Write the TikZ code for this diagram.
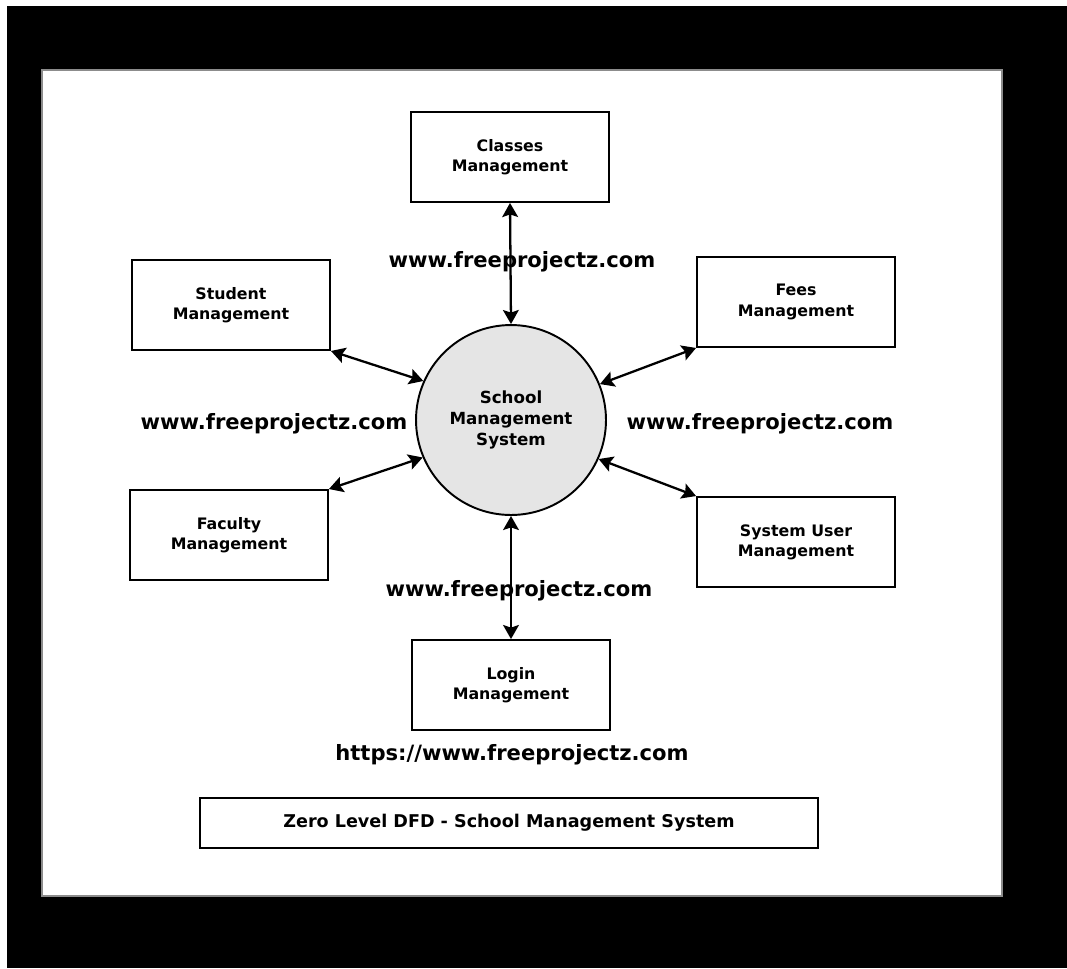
\documentclass[tikz,border=0pt]{standalone}
\usepackage{fontspec}
\setmainfont{DejaVu Sans}
\definecolor{dfdfill}{RGB}{229,229,229}
\definecolor{dfdframe}{RGB}{140,140,140}
\usetikzlibrary{arrows.meta}

\begin{document}
\begin{tikzpicture}[x=0.02cm,y=-0.02cm,
  entity/.style={draw,line width=1.1pt,minimum width=3.96cm,minimum height=1.8cm,
    align=center,font=\fontsize{9}{11.5}\selectfont\bfseries},
  process/.style={circle,draw,fill=dfdfill,line width=1.1pt,minimum size=3.8cm,
    align=center,font=\fontsize{9.5}{12}\selectfont\bfseries},
  flow/.style={{Stealth[length=8pt,width=9pt,inset=1.5pt]}-{Stealth[length=8pt,width=9pt,inset=1.5pt]},line width=1.3pt},
  site/.style={font=\fontsize{12}{14}\selectfont\bfseries}]
  % page and black frame
  \useasboundingbox (0,0) rectangle (1067,968);
  \fill[white] (0,0) rectangle (1067,968);
  \fill[black] (7,6) rectangle (1067,968);
  \draw[dfdframe,fill=white,line width=1.5pt] (42,70) rectangle (1002,896);
  % central process
  \node[process] (sms) at (511,420) {School\\Management\\System};
  % external entities
  \foreach \nm/\x/\y/\txt in {
    classes/510/157/{Classes\\Management},
    student/231/305/{Student\\Management},
    fees/796/302/{Fees\\Management},
    faculty/229/535/{Faculty\\Management},
    sysuser/796/542/{System User\\Management},
    login/511/685/{Login\\Management}} {
    \node[entity] (\nm) at (\x,\y) {\txt};
  }
  \draw[flow] (classes.south) -- (sms.north);
  \draw[flow] (student.south east) -- (sms.156);
  \draw[flow] (fees.south west) -- (sms.22);
  \draw[flow] (faculty.north east) -- (sms.203);
  \draw[flow] (sysuser.north west) -- (sms.336);
  \draw[flow] (login.north) -- (sms.south);
  % watermarks
  \node[site] (urltop) at (522,262) {www.freeprojectz.com};
  \node[site] (urlleft) at (274,424) {www.freeprojectz.com};
  \node[site] (urlright) at (760,424) {www.freeprojectz.com};
  \node[site] (urlbottom) at (519,591) {www.freeprojectz.com};
  \node[site] (urlmain) at (512,755) {https://www.freeprojectz.com};
  % caption
  \node[draw,line width=1.1pt,minimum width=12.36cm,minimum height=1cm,
    font=\fontsize{10}{12}\selectfont\bfseries] (caption) at (509,823)
    {Zero Level DFD - School Management System};
\end{tikzpicture}
\end{document}
